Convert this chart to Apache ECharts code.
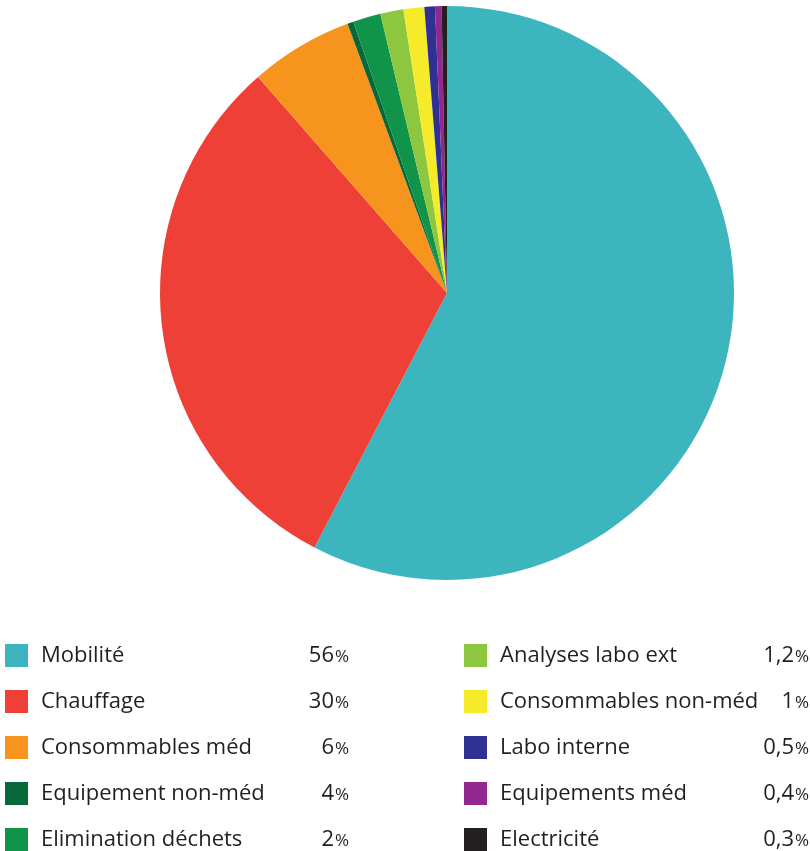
<!DOCTYPE html>
<html>
<head>
<meta charset="utf-8">
<script src="https://cdn.jsdelivr.net/npm/echarts@6/dist/echarts.min.js"></script>
<style>
  html, body { margin: 0; padding: 0; background: #fff; }
  #chart { width: 810px; height: 851px; }
</style>
</head>
<body>
<div id="chart"></div>
<script>
// categories in legend order (also clockwise order in the pie)
const categories = [
  "Mobilité", "Chauffage", "Consommables méd", "Equipement non-méd", "Elimination déchets",
  "Analyses labo ext", "Consommables non-méd", "Labo interne", "Equipements méd", "Electricité"
];
// slice sizes as drawn in the pie (%)
const sliceValues = [57.6, 30.9, 5.8, 0.34, 1.56, 1.3, 1.17, 0.59, 0.37, 0.3];
// percentages printed in the legend
const legendPct = ["56", "30", "6", "4", "2", "1,2", "1", "0,5", "0,4", "0,3"];
const colors = [
  "#3db5bf", "#ef4038", "#f7941d", "#07683a", "#10944a",
  "#8dc63f", "#f6eb2a", "#2e3192", "#92278f", "#231f20"
];

let chart = echarts.init(document.getElementById("chart"));

function legendFormatter(name) {
  let i = categories.indexOf(name);
  return "{n|" + name + "}{v|" + legendPct[i] + "}{p|%}";
}

function legendRich(nameWidth) {
  return {
    n: { fontSize: 22, color: "#231f20", width: nameWidth, padding: [0, 0, 0, 8], fontFamily: "Open Sans" },
    v: { fontSize: 22, color: "#231f20", width: 40, align: "right", fontFamily: "Open Sans" },
    p: { fontSize: 17, color: "#231f20", align: "right", fontFamily: "Open Sans", padding: [4, 0, 0, 1] }
  };
}

function makeLegend(names, left, nameWidth) {
  return {
    data: names,
    orient: "vertical",
    left: left,
    top: 639,
    height: 240,
    padding: 5,
    icon: "rect",
    itemWidth: 23,
    itemHeight: 23,
    itemGap: 23,
    selectedMode: false,
    formatter: legendFormatter,
    textStyle: { rich: legendRich(nameWidth) }
  };
}

let option = {
  animation: false,
  color: colors,
  legend: [
    makeLegend(categories.slice(0, 5), 0, 253),
    makeLegend(categories.slice(5), 459, 254)
  ],
  series: [
    {
      type: "pie",
      center: [447, 293],
      radius: [0, 287],
      startAngle: 90,
      clockwise: true,
      label: { show: false },
      labelLine: { show: false },
      emphasis: { disabled: true },
      itemStyle: { borderWidth: 0 },
      data: categories.map(function (c, i) {
        return { name: c, value: sliceValues[i] };
      })
    }
  ]
};

chart.setOption(option);
</script>
</body>
</html>
